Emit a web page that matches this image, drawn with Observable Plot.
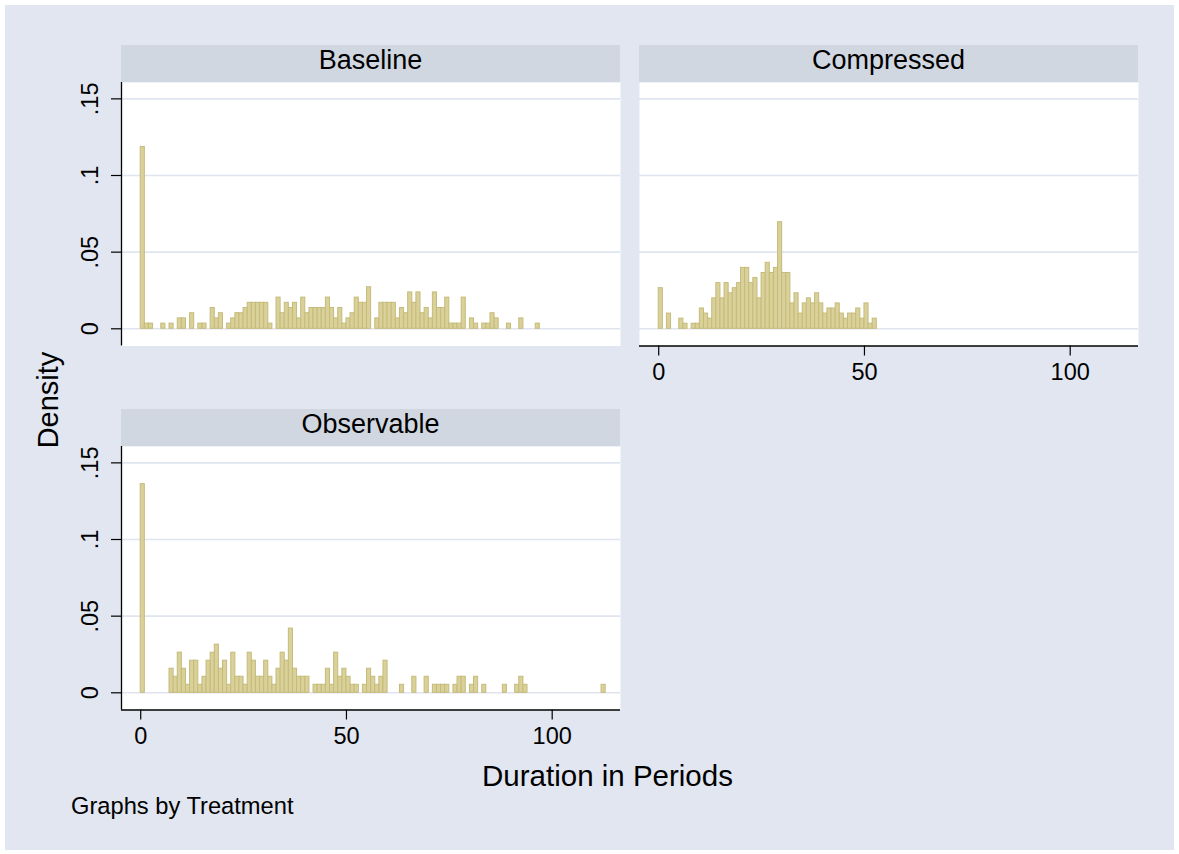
<!DOCTYPE html>
<html><head><meta charset="utf-8">
<script src="https://cdn.jsdelivr.net/npm/d3@7"></script>
<script src="https://cdn.jsdelivr.net/npm/@observablehq/plot@0.6"></script>
<style>
body{margin:0;background:#fff;font-family:"Liberation Sans",Arial,sans-serif;}
#graph{position:relative;width:1179px;height:854px;overflow:hidden;}
#bg{position:absolute;left:5px;top:5px;width:1169px;height:845px;background:#e1e6f0;}
.strip{position:absolute;height:37px;background:#d1d7e1;color:#000;font-size:27px;text-align:center;line-height:31px;}
.panel{position:absolute;}
.lbl{position:absolute;color:#000;white-space:nowrap;line-height:1;}
</style></head><body>
<div id="graph"><div id="bg"></div></div>
<script>
// ---- data (counts of durations per 1-period bin, bin index = start of bin) ----
const treatments = ["Baseline", "Compressed", "Observable"];
const baselineCounts = [35,1,1,0,0,1,0,1,0,2,2,0,3,0,1,1,0,4,2,3,0,1,2,3,3,4,5,5,5,5,5,1,0,6,3,5,4,5,2,6,3,4,4,4,4,6,4,2,4,1,2,3,6,5,5,8,0,2,5,5,5,5,2,4,3,7,5,7,3,4,2,7,4,4,6,1,1,1,6,0,2,1,0,1,1,3,2,0,0,1,0,0,2,0,0,0,1];
const compressedCounts = [8,0,3,0,0,2,1,0,1,1,4,3,2,6,9,6,9,7,8,9,12,12,9,10,6,11,13,11,12,21,11,11,5,7,3,5,6,5,7,5,3,4,4,5,3,2,3,3,4,2,5,1,2];
const observableCounts = [26,0,0,0,0,0,0,3,2,5,3,1,4,4,1,2,4,5,6,3,4,1,5,2,2,1,5,4,2,2,4,2,1,3,5,4,8,3,2,2,2,0,1,1,1,3,1,5,2,3,2,1,1,0,1,3,2,1,2,4,0,0,0,1,0,0,2,0,0,2,0,1,1,1,1,0,1,2,2,0,1,2,0,1,0,0,0,0,1,0,0,1,2,1,0,0,0,0,0,0,0,0,0,0,0,0,0,0,0,0,0,0,1];
const binWidth = 1;
const yTicks = [0, 0.05, 0.1, 0.15];
const yTickLabels = ["0", ".05", ".1", ".15"];
const xTicks = [0, 50, 100];
const xTickLabels = ["0", "50", "100"];
const xDomain = [-4.67, 116.6];
const yDomain = [-0.01122, 0.16067];

// ---- layout ----
const PW = 499, PH = 263.5;           // plot region size
const ML = 70, MB = 50;               // room for axes
const panels = [
  {name: treatments[0], counts: baselineCounts, left: 121, top: 82, showX: false, showY: true},
  {name: treatments[1], counts: compressedCounts, left: 639, top: 82, showX: true, showY: false},
  {name: treatments[2], counts: observableCounts, left: 121, top: 446, showX: true, showY: true}
];
const barFill = "#d9d199", barStroke = "#c5bb7a", gridColor = "#dfe4ee";
const font = "'Liberation Sans', Arial, Helvetica, sans-serif";
const graph = document.getElementById("graph");

function bins(counts) {
  const n = d3.sum(counts);
  return counts.map((c, i) => ({bin: i * binWidth, count: c, density: c / (n * binWidth)})).filter(d => d.count > 0);
}

for (const p of panels) {
  const data = bins(p.counts);
  const marks = [
    Plot.frame({fill: "white", stroke: null}),
    Plot.ruleY(yTicks, {stroke: gridColor, strokeWidth: 1.6}),
    Plot.rectY(data, {x1: "bin", x2: d => d.bin + binWidth, y: "density", fill: barFill, stroke: barStroke, strokeWidth: 1, inset: 0})
  ];
  if (p.showY) {
    marks.push(Plot.axisY(yTicks, {label: null, tickFormat: d => yTickLabels[yTicks.indexOf(d)], tickRotate: -90, tickSize: 10, tickPadding: 13.5, fontSize: 23.5, stroke: "black", strokeWidth: 1.2}));
    marks.push(Plot.ruleX([xDomain[0]], {stroke: "black", strokeWidth: 1.3}));
  }
  if (p.showX) {
    marks.push(Plot.axisX(xTicks, {label: null, tickFormat: d => xTickLabels[xTicks.indexOf(d)], tickSize: 10, tickPadding: 7, fontSize: 23.5, stroke: "black", strokeWidth: 1.2}));
    marks.push(Plot.ruleY([yDomain[0]], {stroke: "black", strokeWidth: 1.3}));
  }
  const chart = Plot.plot({
    width: ML + PW, height: PH + MB,
    marginLeft: ML, marginRight: 0, marginTop: 0, marginBottom: MB,
    x: {domain: xDomain, axis: null, label: null},
    y: {domain: yDomain, axis: null, label: null},
    style: {fontFamily: font, background: "transparent", color: "black", overflow: "visible"},
    marks
  });
  chart.classList.add("panel");
  chart.style.left = (p.left - ML) + "px";
  chart.style.top = p.top + "px";
  graph.appendChild(chart);

  const strip = document.createElement("div");
  strip.className = "strip";
  strip.style.left = p.left + "px";
  strip.style.top = (p.top - 37) + "px";
  strip.style.width = PW + "px";
  strip.textContent = p.name;
  graph.appendChild(strip);
}

function label(text, size, css) {
  const d = document.createElement("div");
  d.className = "lbl";
  d.textContent = text;
  d.style.fontSize = size + "px";
  Object.assign(d.style, css);
  graph.appendChild(d);
  return d;
}
label("Duration in Periods", 29.5, {left: "607.5px", top: "761px", transform: "translateX(-50%)"});
label("Graphs by Treatment", 23.7, {left: "71px", top: "795px"});
label("Density", 29, {left: "48px", top: "400px", transform: "translate(-50%,-50%) rotate(-90deg)"});
</script>
</body></html>
